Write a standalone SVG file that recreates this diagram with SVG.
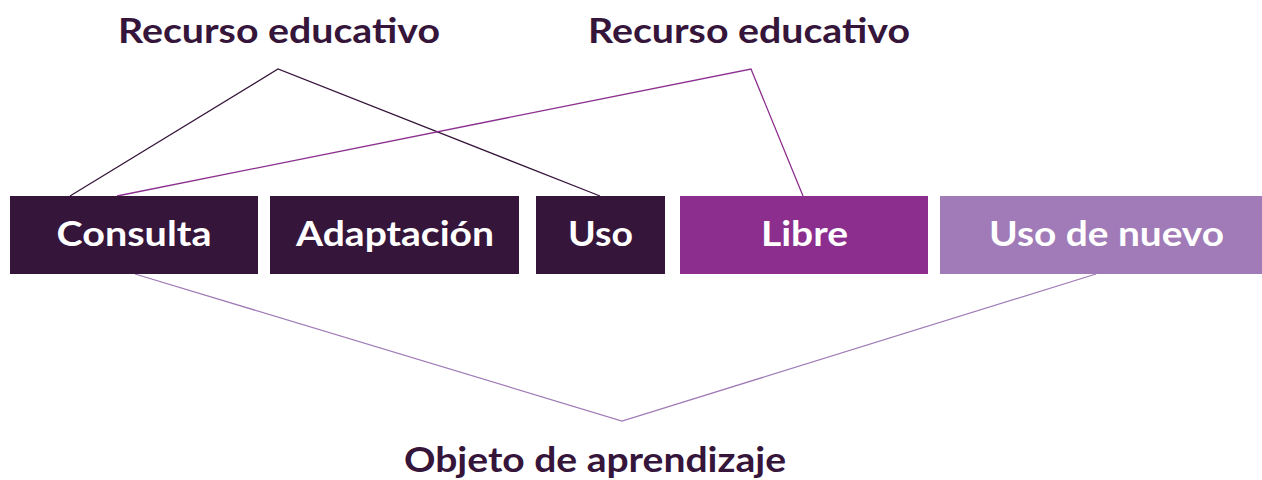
<svg xmlns="http://www.w3.org/2000/svg" width="1262" height="480" viewBox="0 0 1262 480">
<style>
.t{font-family:Lato,"Open Sans","Liberation Sans",sans-serif;font-weight:700;font-size:35px;text-anchor:middle}
.lbl{fill:#ffffff}
.ttl{fill:#36153b}
.c{fill:none;stroke-width:1.3}
</style>
<rect width="1262" height="480" fill="#ffffff"/>
<g id="connectors">
<polyline class="c" points="70,196 278,69 600,196" stroke="#36153b"/>
<polyline class="c" points="117,196 751,69 803,196" stroke="#8b2e8e"/>
<polyline class="c" points="135,274 622,421 1096,274" stroke="#a07bb7"/>
</g>
<g id="consulta"><rect x="10" y="196" width="248" height="78" fill="#36153b"/><text class="t lbl" x="134" y="246" textLength="155" lengthAdjust="spacingAndGlyphs">Consulta</text></g>
<g id="adaptacion"><rect x="270" y="196" width="249" height="78" fill="#36153b"/><text class="t lbl" x="395" y="246" textLength="198" lengthAdjust="spacingAndGlyphs">Adaptación</text></g>
<g id="uso"><rect x="536" y="196" width="129" height="78" fill="#36153b"/><text class="t lbl" x="600.5" y="246" textLength="65" lengthAdjust="spacingAndGlyphs">Uso</text></g>
<g id="libre"><rect x="680" y="196" width="248" height="78" fill="#8b2e8e"/><text class="t lbl" x="804.5" y="246" textLength="87" lengthAdjust="spacingAndGlyphs">Libre</text></g>
<g id="uso-de-nuevo"><rect x="940" y="196" width="322" height="78" fill="#a07bb7"/><text class="t lbl" x="1106.5" y="246" textLength="235" lengthAdjust="spacingAndGlyphs">Uso de nuevo</text></g>
<g id="recurso1"><text class="t ttl" x="279" y="43" textLength="322" lengthAdjust="spacingAndGlyphs">Recurso educativo</text></g>
<g id="recurso2"><text class="t ttl" x="749" y="43" textLength="322" lengthAdjust="spacingAndGlyphs">Recurso educativo</text></g>
<g id="objeto"><text class="t ttl" x="595" y="472" textLength="382" lengthAdjust="spacingAndGlyphs">Objeto de aprendizaje</text></g>
</svg>
